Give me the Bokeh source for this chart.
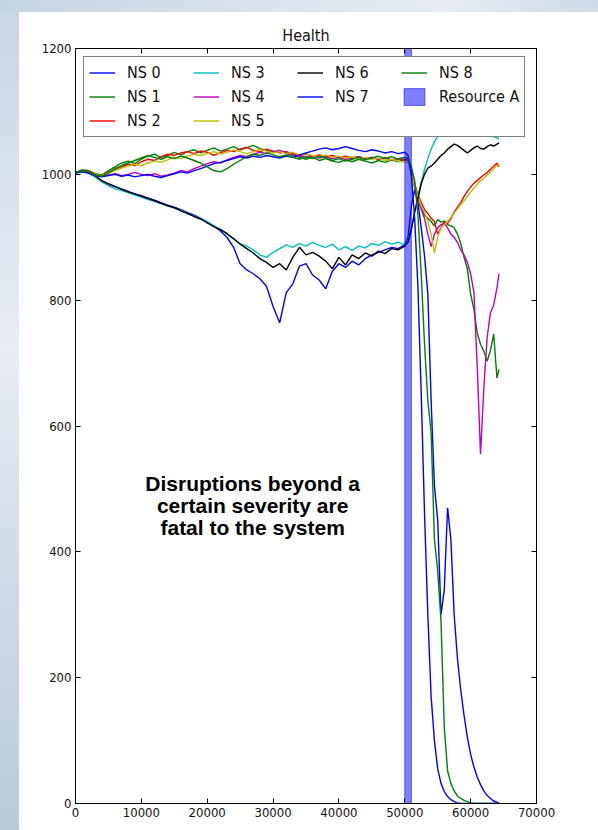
from bokeh.plotting import figure
from bokeh.models import Range1d, LinearAxis, Legend, LegendItem, Label
from bokeh.embed import file_html
from bokeh.resources import INLINE

# simulation steps: coarse sampling before the disruption, finer after it
steps_early = list(range(0, 50001, 1000))
steps_late = [50500, 51000, 51500, 52000, 52500, 53000, 53500, 54000, 54500,
              55000, 55500, 56000, 56500, 57000, 57500, 58000, 58500, 59000,
              59500, 60000, 60500, 61000, 61500, 62000, 62500, 63000, 63500,
              64000, 64300]
steps = steps_early + steps_late

ns0_health = [1003, 1005, 1002, 996, 989, 984, 980, 977, 973, 969, 966,
              962, 959, 955, 951, 948, 944, 939, 935, 930, 924,
              918, 910, 900, 884, 858, 848, 842, 834, 822, 790,
              764, 812, 826, 854, 858, 840, 832, 818, 846, 858,
              852, 862, 856, 866, 872, 876, 880, 884, 882, 888] + \
             [900, 950, 975, 955, 915, 870, 810, 640, 505, 450, 300, 340, 470, 420, 300,
              230, 180, 140, 105, 78, 58, 42, 30, 20, 13, 8, 4, 2, 1]

ns1_health = [1003, 1007, 1006, 1001, 999, 1006, 1012, 1018, 1021, 1017, 1024,
              1029, 1032, 1027, 1030, 1035, 1031, 1036, 1039, 1034, 1038,
              1042, 1037, 1040, 1044, 1039, 1042, 1046, 1041, 1038, 1035,
              1037, 1033, 1030, 1027, 1024, 1027, 1022, 1025, 1021, 1019,
              1023, 1020, 1024, 1021, 1018, 1022, 1019, 1023, 1020, 1024] + \
             [1022, 1005, 980, 962, 948, 935, 930, 925, 918, 928, 924, 926, 920, 918, 915,
              905, 890, 868, 850, 810, 785, 748, 730, 719, 703, 720, 746, 676, 690]

ns2_health = [1002, 1006, 1005, 1000, 998, 1003, 1008, 1012, 1016, 1014, 1020,
              1024, 1022, 1028, 1032, 1030, 1034, 1036, 1033, 1037, 1035,
              1030, 1034, 1038, 1036, 1040, 1043, 1038, 1036, 1040, 1037,
              1034, 1036, 1033, 1030, 1032, 1029, 1031, 1028, 1030, 1027,
              1029, 1026, 1028, 1025, 1027, 1024, 1026, 1023, 1025, 1022] + \
             [1025, 1005, 985, 968, 955, 944, 938, 930, 925, 905, 915, 925, 922, 930, 940,
              948, 955, 965, 973, 980, 986, 990, 995, 999, 1003, 1008, 1013, 1018, 1012]

ns3_health = [1003, 1006, 1003, 996, 988, 982, 977, 974, 971, 967, 964,
              960, 957, 953, 950, 946, 943, 937, 934, 929, 925,
              918, 913, 905, 897, 890, 886, 880, 872, 868, 876,
              882, 888, 884, 890, 886, 892, 887, 884, 889, 880,
              885, 879, 886, 883, 890, 887, 893, 889, 892, 888] + \
             [895, 915, 940, 965, 988, 1008, 1025, 1040, 1052, 1060, 1066, 1068, 1071, 1066, 1063,
              1068, 1064, 1060, 1062, 1066, 1062, 1064, 1060, 1063, 1066, 1062, 1060, 1058, 1056]

ns4_health = [1002, 1005, 1003, 999, 997, 999, 1001, 998, 1000, 1003, 1000,
              998, 1001, 997, 999, 1002, 1006, 1004, 1009, 1013, 1017,
              1020, 1018, 1023, 1027, 1030, 1028, 1032, 1035, 1033, 1036,
              1038, 1035, 1031, 1029, 1027, 1029, 1026, 1028, 1025, 1027,
              1024, 1026, 1028, 1025, 1027, 1024, 1026, 1023, 1025, 1027] + \
             [1025, 1000, 980, 958, 945, 930, 905, 885, 905, 915, 920, 922, 915, 905, 900,
              892, 880, 872, 860, 842, 812, 695, 555, 660, 740, 780, 792, 820, 842]

ns5_health = [1002, 1005, 1004, 1000, 998, 1002, 1006, 1010, 1013, 1016, 1014,
              1018, 1021, 1019, 1023, 1027, 1025, 1029, 1032, 1030, 1033,
              1036, 1032, 1035, 1039, 1036, 1033, 1036, 1040, 1037, 1034,
              1036, 1033, 1035, 1031, 1033, 1030, 1028, 1031, 1027, 1029,
              1026, 1028, 1025, 1027, 1024, 1026, 1022, 1024, 1021, 1019] + \
             [1020, 1000, 982, 965, 950, 940, 925, 905, 875, 900, 915, 920, 925, 932, 938,
              945, 952, 958, 965, 972, 978, 984, 990, 994, 999, 1004, 1009, 1014, 1016]

ns6_health = [1003, 1006, 1004, 998, 990, 985, 981, 976, 972, 969, 965,
              962, 958, 954, 950, 947, 942, 938, 933, 929, 923,
              917, 912, 906, 898, 889, 882, 875, 866, 860, 852,
              858, 848, 868, 884, 872, 876, 870, 862, 850, 868,
              856, 872, 866, 875, 870, 878, 874, 882, 880, 886] + \
             [892, 912, 940, 962, 985, 1000, 1010, 1013, 1018, 1024, 1030, 1034, 1040, 1044, 1048,
              1046, 1042, 1038, 1034, 1038, 1042, 1045, 1041, 1040, 1044, 1047, 1045, 1048, 1050]

ns7_health = [1002, 1004, 1002, 998, 996, 998, 1000, 997, 999, 996, 998,
              1000, 997, 995, 998, 1001, 1004, 1002, 1006, 1009, 1013,
              1017, 1019, 1022, 1025, 1028, 1026, 1029, 1027, 1030, 1028,
              1026, 1029, 1027, 1031, 1034, 1037, 1040, 1042, 1039, 1041,
              1044, 1041, 1038, 1036, 1039, 1037, 1034, 1036, 1033, 1035] + \
             [1030, 1000, 930, 820, 650, 460, 300, 170, 100, 55, 32, 19, 11, 6, 3,
              1, 0, 0, 0, 0, 0, 0, 0, 0, 0, 0, 0, 0, 0]

ns8_health = [1003, 1006, 1004, 999, 997, 1002, 1009, 1014, 1018, 1022, 1026,
              1030, 1027, 1024, 1028, 1025, 1029, 1026, 1022, 1018, 1012,
              1006, 1004, 1009, 1016, 1022, 1028, 1032, 1030, 1034, 1031,
              1028, 1031, 1027, 1024, 1028, 1025, 1029, 1026, 1022, 1025,
              1021, 1024, 1027, 1023, 1026, 1029, 1025, 1028, 1024, 1027] + \
             [1026, 1012, 990, 935, 840, 730, 640, 590, 420, 370, 290, 120, 52, 32, 20,
              12, 8, 5, 3, 1, 0, 0, 0, 0, 0, 0, 0, 0, 0]

series_labels = ["NS 0", "NS 1", "NS 2", "NS 3", "NS 4", "NS 5", "NS 6", "NS 7", "NS 8"]
series_values = [ns0_health, ns1_health, ns2_health, ns3_health, ns4_health,
                 ns5_health, ns6_health, ns7_health, ns8_health]
series_colors = ["#0000ff", "#008000", "#ff0000", "#00bfbf", "#bf00bf",
                 "#bfbf00", "#000000", "#0000ff", "#008000"]

# window during which Resource A was disrupted
resource_a_start = [50000]
resource_a_end = [51000]

x_ticks = [0, 10000, 20000, 30000, 40000, 50000, 60000, 70000]
y_ticks = [0, 200, 400, 600, 800, 1000, 1200]

FONT = "DejaVu Sans Condensed"

page_background = (
    "linear-gradient(to right, #c6d3e1 0%, #dbe3ec 45%, #e6ecf2 75%, #cfdae6 100%) "
    "left top / 100% 12px no-repeat, "
    "linear-gradient(to bottom, #c8d4e2 0%, #d9e2ec 22%, #e8edf3 42%, #d6dfe9 62%, #bccadb 100%) "
    "left top / 19px 100% no-repeat, #ffffff"
)

p = figure(width=598, height=830, output_backend="svg", toolbar_location=None,
           x_range=Range1d(0, 70000), y_range=Range1d(0, 1200),
           min_border_left=75, min_border_right=62, min_border_top=48, min_border_bottom=27,
           background_fill_color="white", border_fill_color=None,
           outline_line_color="black", outline_line_width=1,
           title="Health", styles={"background": page_background})

p.title.align = "center"
p.title.text_font = FONT
p.title.text_font_size = "16px"
p.title.text_font_style = "normal"
p.title.text_color = "#111111"
p.title.standoff = 7

p.xgrid.visible = False
p.ygrid.visible = False


def style_axis(ax, ticks, labels=True):
    ax.ticker = ticks
    ax.axis_line_color = "black"
    ax.major_tick_line_color = "black"
    ax.major_tick_in = 5
    ax.major_tick_out = 0
    ax.minor_tick_line_color = None
    ax.major_label_text_font = FONT
    if labels:
        ax.major_label_text_color = "#111111"
        ax.major_label_text_font_size = "13px"
        ax.major_label_standoff = 4
    else:
        # tick marks only on the mirrored sides
        ax.major_label_text_color = None
        ax.major_label_text_font_size = "1px"
        ax.major_label_standoff = 0


style_axis(p.xaxis[0], x_ticks)
style_axis(p.yaxis[0], y_ticks)
top_axis = LinearAxis()
right_axis = LinearAxis()
style_axis(top_axis, x_ticks, labels=False)
style_axis(right_axis, y_ticks, labels=False)
p.add_layout(top_axis, "above")
p.add_layout(right_axis, "right")

renderers = []
for label, color, vals in zip(series_labels, series_colors, series_values):
    renderers.append(p.line(steps, vals, line_color=color, line_width=1.4))

resource_bar = p.quad(left=resource_a_start, right=resource_a_end,
                      bottom=[y_ticks[0]], top=[y_ticks[-1]],
                      fill_color="#0000ff", fill_alpha=0.5,
                      line_color="#0000ff", line_alpha=0.55)

# invisible placeholder so the legend columns split 3-3-2-2
spacer = p.line(x=[], y=[], line_alpha=0)

items = [LegendItem(label=l, renderers=[r]) for l, r in zip(series_labels, renderers)]
legend_items = items[:8] + [LegendItem(label="", renderers=[spacer])] + \
    [items[8], LegendItem(label="Resource A", renderers=[resource_bar]),
     LegendItem(label="", renderers=[spacer])]

legend = Legend(items=legend_items, location="top_left", orientation="vertical", nrows=3,
                margin=8, padding=5, spacing=3,
                glyph_width=26, glyph_height=21, label_width=63, label_height=21,
                label_standoff=12,
                label_text_font=FONT, label_text_font_size="16px", label_text_color="#111111",
                border_line_color="black", border_line_width=1,
                background_fill_color="white", background_fill_alpha=1.0)
p.add_layout(legend)

note = Label(x=26900, y=474,
             text="Disruptions beyond a\ncertain severity are\nfatal to the system",
             text_align="center", text_baseline="middle",
             text_font="Liberation Sans", text_font_style="bold",
             text_font_size="21px", text_line_height=0.95, text_color="black")
p.add_layout(note)

open("out.html", "w").write(file_html(p, INLINE))
